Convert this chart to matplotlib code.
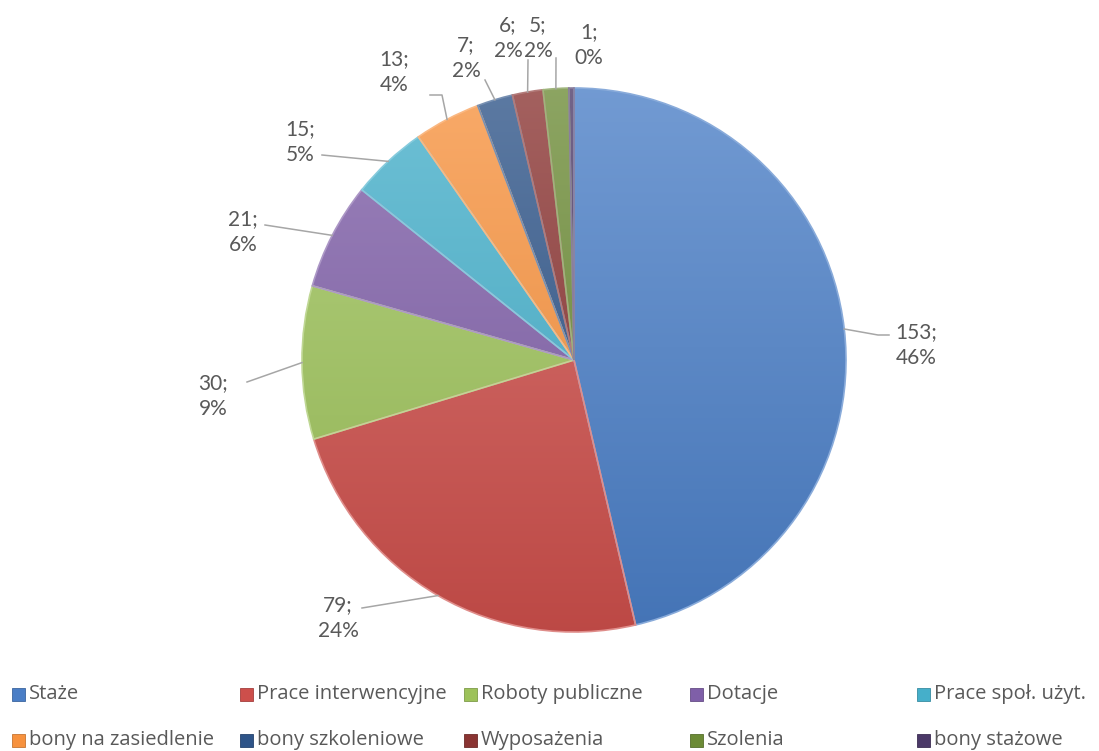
import numpy as np
import matplotlib
matplotlib.use("Agg")
import matplotlib.pyplot as plt
from matplotlib.colors import to_rgb
from matplotlib.patches import Rectangle

plt.rcParams['font.family'] = ['Lato', 'DejaVu Sans']

categories = ["Staże", "Prace interwencyjne", "Roboty publiczne", "Dotacje",
              "Prace społ. użyt.", "bony na zasiedlenie", "bony szkoleniowe",
              "Wyposażenia", "Szolenia", "bony stażowe"]
values = [153, 79, 30, 21, 15, 13, 7, 6, 5, 1]
colors = ["#4A7EC6", "#CD4F4B", "#9DC25A", "#7F5FA8", "#45AFCA",
          "#F7923E", "#2E5488", "#8A3432", "#6C8B36", "#4B3968"]

# pie geometry in pixels (centre, radius)
CX, CY, R = 574, 360, 272
W, H = 1099, 751

# label centres and leader line points (pixels)
label_pos = [(916, 345), (338, 618), (213, 396), (243, 232), (300, 142),
             (394, 72), (466, 58), (508, 38), (538, 38), (589, 45)]
leaders = [[(878, 335), (889, 335)], [(362, 608)], [(247, 382)], [(265, 225)],
           [(322, 155)], [(442, 95), (430, 95)], [(485, 80)], [(528, 60)],
           [(556, 58)], []]


def px(x, y):
    return (x - CX) / R, (CY - y) / R


fig = plt.figure(figsize=(W / 100, H / 100), dpi=100)
ax = fig.add_axes([0, 0, 1, 1])

wedges, _ = ax.pie(values, startangle=90, counterclock=False, radius=1.0,
                   colors=colors, wedgeprops=dict(linewidth=0))

# vertical gradient fill clipped to every wedge
ys = np.linspace(0, 1, 256)[:, None]
for w, c in zip(wedges, colors):
    base = np.array(to_rgb(c))
    light = base + (1 - base) * 0.22
    dark = base * 0.92
    grad = light[None, None, :] * (1 - ys[..., None]) + dark[None, None, :] * ys[..., None]
    grad = np.repeat(grad, 4, axis=1)
    im = ax.imshow(grad, extent=(-1, 1, -1, 1), origin="upper",
                   interpolation="bilinear", zorder=2)
    im.set_clip_path(w)
    edge = base + (1 - base) * 0.35
    w.set_edgecolor(tuple(edge))
    w.set_linewidth(1.2)
    w.set_zorder(3)
    w.set_facecolor("none")

total = sum(values)
cum = 0
for i, v in enumerate(values):
    mid = (cum + v / 2) / total * 360
    cum += v
    ang = np.deg2rad(90 - mid)
    pts = [(np.cos(ang), np.sin(ang))] + [px(*p) for p in leaders[i]]
    if leaders[i]:
        xs, yv = zip(*pts)
        ax.plot(xs, yv, color="#A6A6A6", lw=1.1, zorder=4)
    pct = int(np.floor(v / total * 100 + 0.5))
    tx, ty = px(*label_pos[i])
    ax.text(tx, ty, f"{v};\n{pct}%", ha="center", va="center",
            fontsize=15, color="#595959", linespacing=1.42, zorder=5)

ax.set_xlim(-CX / R, (W - CX) / R)
ax.set_ylim(-(H - CY) / R, CY / R)
ax.set_aspect("equal")
ax.axis("off")

# legend: two rows of five
col_x = [12, 240, 464, 690, 917]
row_y = [694, 740]
for i, (name, c) in enumerate(zip(categories, colors)):
    x0 = col_x[i % 5]
    y0 = row_y[i // 5]
    fig.patches.append(Rectangle((x0 / W, 1 - (y0 + 6.5) / H), 13 / W, 13 / H,
                                 transform=fig.transFigure, facecolor=c,
                                 edgecolor=tuple(np.array(to_rgb(c)) * 0.8), lw=0.6))
    fig.text((x0 + 17) / W, 1 - y0 / H, name, ha="left", va="center",
             fontsize=14.5, color="#595959", family=["Open Sans", "DejaVu Sans"])

fig.savefig("out.png", dpi=100)
